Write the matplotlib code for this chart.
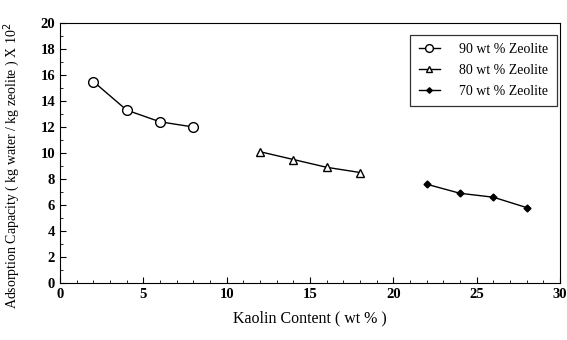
import numpy as np
import matplotlib.pyplot as plt
from matplotlib.ticker import MultipleLocator

plt.rcParams['font.family'] = ['Liberation Serif', 'DejaVu Serif']

# data
x90 = [2, 4, 6, 8]
y90 = [15.5, 13.3, 12.4, 12.0]
x80 = [12, 14, 16, 18]
y80 = [10.1, 9.5, 8.9, 8.5]
x70 = [22, 24, 26, 28]
y70 = [7.6, 6.9, 6.6, 5.8]

fig = plt.figure(figsize=(5.67, 3.4), dpi=100)
ax = fig.add_axes([60/567, 57/340, 500/567, 260/340])

ax.plot(x90, y90, 'k-', marker='o', ms=7, mfc='white', mec='k', lw=1, label='90 wt % Zeolite')
ax.plot(x80, y80, 'k-', marker='^', ms=5.5, mfc='white', mec='k', lw=1, label='80 wt % Zeolite')
ax.plot(x70, y70, 'k-', marker='D', ms=3.5, mfc='k', mec='k', lw=1, label='70 wt % Zeolite')

ax.set_xlim(0, 30)
ax.set_ylim(0, 20)
ax.xaxis.set_major_locator(MultipleLocator(5))
ax.xaxis.set_minor_locator(MultipleLocator(1))
ax.yaxis.set_major_locator(MultipleLocator(2))
ax.yaxis.set_minor_locator(MultipleLocator(1))
ax.tick_params(which='both', direction='in', top=False, right=False)
ax.tick_params(which='major', length=4, labelsize=10.5)
ax.tick_params(which='minor', length=2.5)
for lab in ax.get_xticklabels() + ax.get_yticklabels():
    lab.set_fontweight('bold')

ax.set_xlabel('Kaolin Content ( wt % )', fontsize=11.5, labelpad=7)
ax.set_ylabel('Adsorption Capacity ( kg water / kg zeolite ) X 10$^{2}$', fontsize=10)
ax.yaxis.set_label_coords(-0.076, 0.45)

leg = ax.legend(loc='upper right', bbox_to_anchor=(0.993, 0.954), borderaxespad=0,
                fontsize=10, frameon=True, fancybox=False, edgecolor='k',
                handlelength=1.5, labelspacing=0.55, handletextpad=1.4,
                borderpad=0.6, markerscale=0.8)
leg.get_frame().set_linewidth(0.9)

fig.savefig('out.png', dpi=100)
